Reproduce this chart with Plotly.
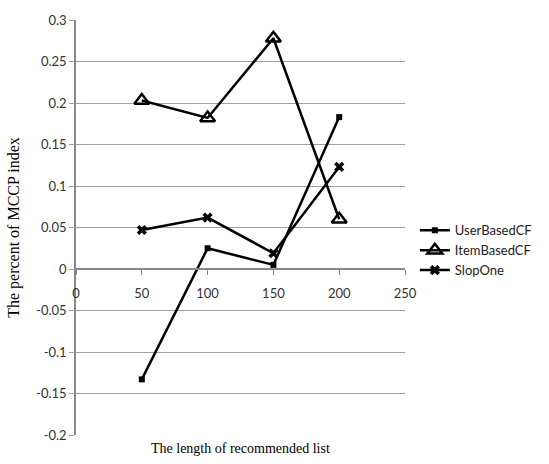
import plotly.graph_objects as go

x_vals = [50, 100, 150, 200]
user_based = [-0.133, 0.025, 0.005, 0.183]
item_based = [0.203, 0.182, 0.278, 0.060]
slop_one = [0.047, 0.062, 0.019, 0.123]
series_names = ["UserBasedCF", "ItemBasedCF", "SlopOne"]
y_ticks = [-0.2, -0.15, -0.1, -0.05, 0, 0.05, 0.1, 0.15, 0.2, 0.25, 0.3]
y_tick_labels = ["-0.2", "-0.15", "-0.1", "-0.05", "0", "0.05", "0.1", "0.15", "0.2", "0.25", "0.3"]
x_ticks = [0, 50, 100, 150, 200, 250]

fig = go.Figure()
fig.add_trace(go.Scatter(x=x_vals, y=user_based, name=series_names[0], mode="lines+markers",
                         line=dict(color="black", width=2.5),
                         marker=dict(symbol="square", size=6, color="black")))
fig.add_trace(go.Scatter(x=x_vals, y=item_based, name=series_names[1], mode="lines+markers",
                         line=dict(color="black", width=2.5),
                         marker=dict(symbol="triangle-up-open", size=13, color="black",
                                     line=dict(width=2.5, color="black"))))
fig.add_trace(go.Scatter(x=x_vals, y=slop_one, name=series_names[2], mode="lines+markers",
                         line=dict(color="black", width=2.5),
                         marker=dict(symbol="x", size=9, color="black")))

tick_font = dict(family="Lato", size=13, color="#333333")
fig.update_layout(
    width=549, height=464,
    margin=dict(l=72, r=142, t=15, b=29),
    paper_bgcolor="white", plot_bgcolor="white",
    xaxis=dict(range=[0, 250], tickvals=x_ticks, showgrid=False,
               anchor="free", position=0.4, showline=True, linecolor="#888888", linewidth=1.5,
               ticks="outside", ticklen=5, tickcolor="#888888", tickfont=tick_font,
               ticklabelstandoff=8, zeroline=False),
    yaxis=dict(range=[-0.2, 0.3], tickvals=y_ticks, ticktext=y_tick_labels, showgrid=True,
               gridcolor="#a0a0a0", gridwidth=1.2, zeroline=False,
               showline=True, linecolor="#888888", linewidth=1.5,
               ticks="outside", ticklen=5, tickcolor="#a0a0a0", tickfont=tick_font,
               title=dict(text="The percent of MCCP index", standoff=13,
                          font=dict(family="Liberation Serif", size=16, color="black"))),
    legend=dict(x=1.03, y=0.445, xanchor="left", yanchor="middle",
                font=dict(family="Lato", size=13, color="#222222"),
                itemwidth=30, tracegroupgap=6),
)
fig.add_annotation(text="The length of recommended list", xref="paper", yref="paper",
                   x=0.5, y=0, yshift=-4, xanchor="center", yanchor="top", showarrow=False,
                   font=dict(family="Liberation Serif", size=14, color="black"))
fig.write_html("out.html")
